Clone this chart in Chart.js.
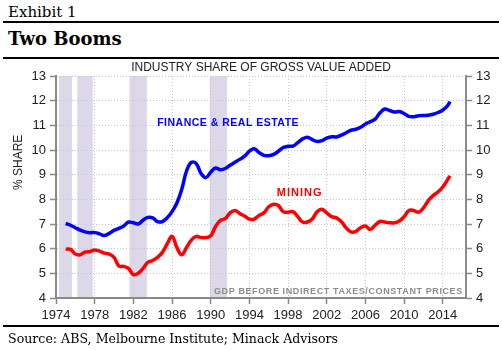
<!DOCTYPE html>
<html>
<head>
<meta charset="utf-8">
<script src="https://cdn.jsdelivr.net/npm/chart.js@4"></script>
<style>
  body { margin: 0; width: 502px; height: 350px; background: #fff; position: relative; overflow: hidden; font-family: "DejaVu Serif", serif; color: #000; }
  .txt { position: absolute; left: 8px; white-space: nowrap; }
  #exhibit { top: 3px; font-size: 15px; }
  #heading { top: 28px; font-size: 18px; font-weight: bold; }
  #source { top: 331px; font-size: 12.6px; }
  .rule { position: absolute; left: 3px; width: 496px; height: 2px; background: #000; }
  #wrap { position: absolute; left: 0; top: 58px; width: 502px; height: 268px; }
</style>
</head>
<body>
<div class="txt" id="exhibit">Exhibit 1</div>
<div class="rule" style="top:21px"></div>
<div class="txt" id="heading">Two Booms</div>
<div class="rule" style="top:57px"></div>
<div id="wrap"><canvas id="chart" width="502" height="268"></canvas></div>
<div class="rule" style="top:325px"></div>
<div class="txt" id="source">Source: ABS, Melbourne Institute; Minack Advisors</div>

<script>
const years = [
  1975, 1975.5, 1976, 1976.5, 1977, 1977.5, 1978, 1978.5, 1979, 1979.5,
  1980, 1980.5, 1981, 1981.5, 1982, 1982.5, 1983, 1983.5, 1984, 1984.5,
  1985, 1985.5, 1986, 1986.5, 1987, 1987.5, 1988, 1988.5, 1989, 1989.5,
  1990, 1990.5, 1991, 1991.5, 1992, 1992.5, 1993, 1993.5, 1994, 1994.5,
  1995, 1995.5, 1996, 1996.5, 1997, 1997.5, 1998, 1998.5, 1999, 1999.5,
  2000, 2000.5, 2001, 2001.5, 2002, 2002.5, 2003, 2003.5, 2004, 2004.5,
  2005, 2005.5, 2006, 2006.5, 2007, 2007.5, 2008, 2008.5, 2009, 2009.5,
  2010, 2010.5, 2011, 2011.5, 2012, 2012.5, 2013, 2013.5, 2014, 2014.5, 2014.75
];

const finance = [
  7.02, 6.95, 6.85, 6.75, 6.68, 6.65, 6.65, 6.60, 6.53, 6.62,
  6.74, 6.82, 6.92, 7.08, 7.05, 7.00, 7.15, 7.27, 7.25, 7.10,
  7.10, 7.25, 7.50, 7.85, 8.40, 9.15, 9.50, 9.45, 9.05, 8.88,
  9.10, 9.27, 9.20, 9.25, 9.38, 9.50, 9.62, 9.75, 9.95, 10.05,
  9.90, 9.78, 9.77, 9.82, 9.95, 10.10, 10.15, 10.16, 10.30, 10.45,
  10.52, 10.42, 10.35, 10.38, 10.48, 10.54, 10.53, 10.60, 10.70, 10.80,
  10.84, 10.92, 11.05, 11.15, 11.25, 11.50, 11.66, 11.60, 11.54, 11.56,
  11.48, 11.36, 11.35, 11.39, 11.40, 11.41, 11.45, 11.52, 11.62, 11.80, 11.96
];

const mining = [
  5.98, 5.97, 5.78, 5.75, 5.86, 5.88, 5.95, 5.90, 5.82, 5.78,
  5.65, 5.30, 5.28, 5.20, 4.95, 5.00, 5.20, 5.45, 5.52, 5.65,
  5.85, 6.20, 6.50, 6.05, 5.75, 6.05, 6.35, 6.50, 6.45, 6.45,
  6.52, 6.90, 7.15, 7.22, 7.45, 7.55, 7.43, 7.32, 7.20, 7.20,
  7.35, 7.45, 7.70, 7.80, 7.75, 7.50, 7.48, 7.50, 7.30, 7.08,
  7.08, 7.20, 7.50, 7.60, 7.45, 7.30, 7.25, 7.10, 6.85, 6.68,
  6.70, 6.85, 6.92, 6.78, 6.95, 7.10, 7.08, 7.05, 7.05, 7.12,
  7.30, 7.55, 7.55, 7.48, 7.65, 7.95, 8.15, 8.30, 8.50, 8.80, 8.95
];

// shaded recession periods [start, end]
const recessions = [
  [1974.3, 1975.65],
  [1976.2, 1977.8],
  [1981.6, 1983.4],
  [1989.9, 1991.7]
];

const xTicks = [1974, 1978, 1982, 1986, 1990, 1994, 1998, 2002, 2006, 2010, 2014];

const toPoints = (vals) => vals.map((v, i) => ({ x: years[i], y: v }));

const overlay = {
  id: "overlay",
  beforeDraw(chart) {
    const { ctx, chartArea, scales } = chart;
    ctx.save();
    ctx.fillStyle = "#ddd8e7";
    recessions.forEach(([a, b]) => {
      const x1 = scales.x.getPixelForValue(a);
      const x2 = scales.x.getPixelForValue(b);
      ctx.fillRect(x1, chartArea.top, x2 - x1, chartArea.bottom - chartArea.top);
    });
    ctx.restore();
  },
  afterDraw(chart) {
    const { ctx, chartArea, scales } = chart;
    ctx.save();
    ctx.textBaseline = "middle";

    ctx.fillStyle = "#222";
    ctx.font = '12px "Liberation Sans", Arial, sans-serif';
    ctx.textAlign = "center";
    ctx.fillText("INDUSTRY SHARE OF GROSS VALUE ADDED", (chartArea.left + chartArea.right) / 2, chartArea.top - 8);

    ctx.save();
    ctx.translate(19, scales.y.getPixelForValue(9.5));
    ctx.rotate(-Math.PI / 2);
    ctx.fillText("% SHARE", 0, 0);
    ctx.restore();

    ctx.font = 'bold 10.5px "Liberation Sans", Arial, sans-serif';
    ctx.letterSpacing = "0.5px";
    ctx.fillStyle = "#0000ff";
    ctx.fillText("FINANCE & REAL ESTATE", scales.x.getPixelForValue(1991.8), scales.y.getPixelForValue(11.1));
    ctx.letterSpacing = "1px";
    ctx.fillStyle = "#ff0000";
    ctx.font = 'bold 11px "Liberation Sans", Arial, sans-serif';
    ctx.fillText("MINING", scales.x.getPixelForValue(1999.2), scales.y.getPixelForValue(8.27));

    ctx.font = 'bold 9px "Liberation Sans", Arial, sans-serif';
    ctx.letterSpacing = "0.6px";
    ctx.fillStyle = "#8c8c8c";
    ctx.textAlign = "left";
    ctx.fillText("GDP BEFORE INDIRECT TAXES/CONSTANT PRICES", chartArea.left + 158, chartArea.bottom - 6);
    ctx.restore();
  }
};

const gridColor = "#c8c2e2";
const axisColor = "#8a8a8a";
const tickFont = { family: '"Liberation Sans", Arial, sans-serif', size: 13 };

const yAxis = (position, width) => ({
  type: "linear",
  position: position,
  min: 4,
  max: 13,
  ticks: { stepSize: 1, color: "#222", font: tickFont, padding: 4 },
  grid: {
    drawOnChartArea: position === "left",
    color: gridColor,
    lineWidth: 1,
    tickLength: 6,
    tickColor: axisColor,
    tickWidth: 1.5
  },
  border: { display: true, color: axisColor, width: 2, dash: [1, 2] },
  afterFit: (scale) => { scale.width = width; }
});

new Chart(document.getElementById("chart"), {
  type: "line",
  data: {
    datasets: [
      {
        label: "Finance & Real Estate",
        data: toPoints(finance),
        borderColor: "#0000ff",
        borderWidth: 3.5,
        pointRadius: 0,
        tension: 0.4,
        fill: false
      },
      {
        label: "Mining",
        data: toPoints(mining),
        borderColor: "#ff0000",
        borderWidth: 3.5,
        pointRadius: 0,
        tension: 0.4,
        fill: false
      }
    ]
  },
  options: {
    responsive: false,
    animation: false,
    layout: { padding: { top: 18, left: 0, right: 0, bottom: 0 } },
    plugins: {
      legend: { display: false },
      title: { display: false },
      tooltip: { enabled: false }
    },
    scales: {
      x: {
        type: "linear",
        min: 1974,
        max: 2016.4,
        afterBuildTicks: (scale) => { scale.ticks = xTicks.map((v) => ({ value: v })); },
        ticks: { color: "#222", font: tickFont, padding: 4, maxRotation: 0, autoSkip: false, callback: (v) => String(v) },
        grid: {
          color: gridColor,
          lineWidth: 1,
          tickLength: 6,
          tickColor: axisColor,
          tickWidth: 1.5
        },
        border: { display: true, color: axisColor, width: 2, dash: [1, 2] },
        afterFit: (scale) => { scale.height = 28; }
      },
      y: yAxis("left", 56),
      y2: yAxis("right", 36)
    }
  },
  plugins: [overlay]
});
</script>
</body>
</html>
